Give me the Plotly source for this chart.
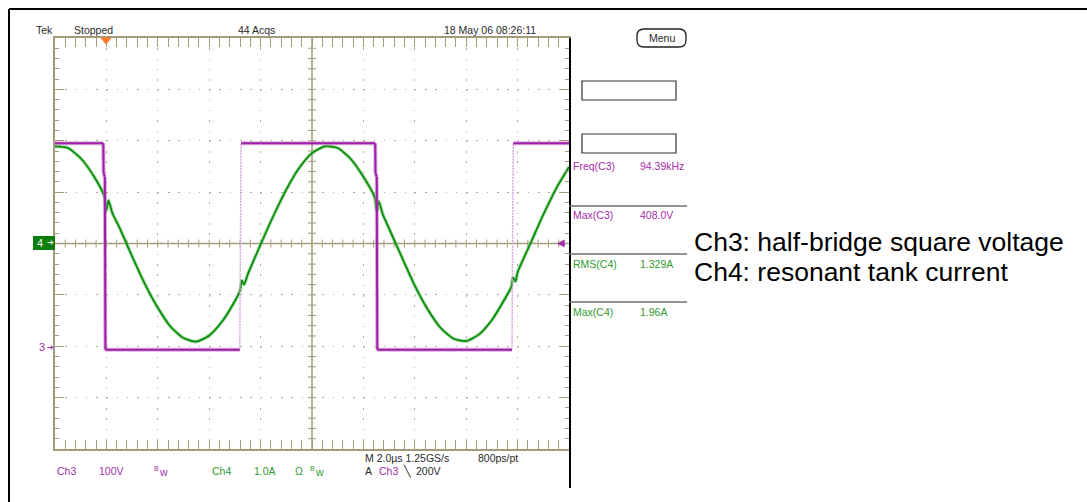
import plotly.graph_objects as go

# ---------------- data ----------------
# Ch3: half-bridge square voltage  (time in us, volts)
ch3_t = [0.0, 1.88, 1.89, 1.94, 1.96, 7.19, 7.24, 7.30, 12.46, 12.47, 12.52, 12.54, 17.78, 17.83, 17.89, 20.0]
ch3_v = [395, 395, 337, 330, -7, -7, 395, 395, 395, 337, 330, -7, -7, 395, 395, 395]

# Ch4: resonant tank current (time in us, amps)
ch4_t = [0.0, 0.5, 1.0, 1.5, 1.92, 2.0, 2.08, 2.24, 2.5, 3.0, 3.5, 4.0, 4.5, 5.0, 5.5, 6.0,
         6.5, 7.0, 7.2, 7.27, 7.36, 7.5, 8.0, 8.5, 9.0, 9.5, 10.0, 10.5, 11.0, 11.5, 12.0,
         12.44, 12.52, 12.6, 12.76, 13.0, 13.5, 14.0, 14.5, 15.0, 15.5, 16.0, 16.5, 17.0,
         17.5, 17.76, 17.82, 17.92, 18.0, 18.5, 19.0, 19.5, 20.0]
ch4_a = [1.89, 1.86, 1.66, 1.32, 0.92, 0.64, 0.84, 0.58, 0.32, -0.25, -0.79, -1.25, -1.62,
         -1.84, -1.91, -1.79, -1.52, -1.12, -0.92, -0.72, -0.80, -0.60, -0.02, 0.54, 1.05,
         1.47, 1.76, 1.89, 1.86, 1.65, 1.30, 0.90, 0.62, 0.82, 0.56, 0.29, -0.27, -0.82,
         -1.28, -1.64, -1.85, -1.90, -1.77, -1.49, -1.08, -0.84, -0.66, -0.74, -0.56, 0.00,
         0.56, 1.07, 1.49]

meas_labels = ["Freq(C3)", "Max(C3)", "RMS(C4)", "Max(C4)"]
meas_values = ["94.39kHz", "408.0V", "1.329A", "1.96A"]

# ---------------- styling ----------------
TAN = "#b3ab8c"
TAN_D = "#a39b7c"
PURPLE = "#a01fa8"
PURPLE_L = "#d8a2dc"
GREEN = "#0c880c"
GREEN_L = "rgba(100,200,100,0.6)"
TXT = "#2a2a2a"
TPURPLE = "#a42ea8"
TGREEN = "#2e9a2e"
FONT = "Liberation Sans, Arial, sans-serif"

L, T, W, H = 55, 38, 514, 411
FW, FH = 1087, 502


def px(x):
    return (x - L) / W


def py(y):
    return (T + H - y) / H


fig = go.Figure()

# Ch4 trace (halo + core)
fig.add_trace(go.Scatter(x=ch4_t, y=ch4_a, mode="lines", yaxis="y",
                         line=dict(color=GREEN_L, width=3.6, shape="spline", smoothing=0.6),
                         hoverinfo="skip"))
fig.add_trace(go.Scatter(x=ch4_t, y=ch4_a, mode="lines", yaxis="y",
                         line=dict(color=GREEN, width=1.7, shape="spline", smoothing=0.6),
                         hoverinfo="skip"))

# Ch3 trace: rising edges drawn faint, the rest solid
main_x, main_y, rise_x, rise_y = [], [], [], []
for i in range(len(ch3_t) - 1):
    x0, x1, y0, y1 = ch3_t[i], ch3_t[i + 1], ch3_v[i], ch3_v[i + 1]
    if y1 - y0 > 100:
        rise_x += [x0, x1, None]
        rise_y += [y0, y1, None]
    else:
        main_x += [x0, x1, None]
        main_y += [y0, y1, None]

fig.add_trace(go.Scatter(x=rise_x, y=rise_y, mode="lines", yaxis="y2",
                         line=dict(color=PURPLE_L, width=1.5, dash="2px,1px"), hoverinfo="skip"))
fig.add_trace(go.Scatter(x=main_x, y=main_y, mode="lines", yaxis="y2",
                         line=dict(color="rgba(190,110,195,0.55)", width=4), hoverinfo="skip"))
fig.add_trace(go.Scatter(x=main_x, y=main_y, mode="lines", yaxis="y2",
                         line=dict(color=PURPLE, width=2), hoverinfo="skip"))

shapes = []
# centre cross
shapes.append(dict(type="line", xref="x", yref="y", x0=0, x1=20, y0=0, y1=0,
                   line=dict(color=TAN_D, width=1.5), layer="below"))
shapes.append(dict(type="line", xref="x", yref="y", x0=10, x1=10, y0=-4, y1=4,
                   line=dict(color=TAN_D, width=1.5), layer="below"))
for k in range(1, 50):
    t = k * 0.4
    shapes.append(dict(type="line", xref="x", yref="y", x0=t, x1=t, ysizemode="pixel", yanchor=0,
                       y0=-4, y1=4, line=dict(color=TAN_D, width=1), layer="below"))
for k in range(1, 40):
    v = -4 + k * 0.2
    shapes.append(dict(type="line", xref="x", yref="y", y0=v, y1=v, xsizemode="pixel", xanchor=10,
                       x0=-4, x1=4, line=dict(color=TAN_D, width=1), layer="below"))


def pline(x0, y0, x1, y1, color="black", width=2):
    shapes.append(dict(type="line", xref="paper", yref="paper", x0=px(x0), y0=py(y0),
                       x1=px(x1), y1=py(y1), line=dict(color=color, width=width)))


def prect(x0, y0, x1, y1, color="#333", width=1.2, fill="rgba(0,0,0,0)"):
    shapes.append(dict(type="rect", xref="paper", yref="paper", x0=px(x0), y0=py(y0),
                       x1=px(x1), y1=py(y1), line=dict(color=color, width=width), fillcolor=fill))


# outer frame
pline(9, 9, FW, 9)
pline(9, 9, 9, FH)
pline(570, 38, 570, 488)

# measurement panel
prect(582, 81, 676, 100)
prect(582, 134, 676, 153)
for yy in [206, 254, 302]:
    pline(569, yy, 687, yy, color="#6e6e6e", width=1.3)

# Menu button (rounded)
mx0, mx1, my0, my1, r = 637, 686, 29, 47, 7
path = (f"M {px(mx0 + r)},{py(my0)} L {px(mx1 - r)},{py(my0)} "
        f"Q {px(mx1)},{py(my0)} {px(mx1)},{py(my0 + r)} L {px(mx1)},{py(my1 - r)} "
        f"Q {px(mx1)},{py(my1)} {px(mx1 - r)},{py(my1)} L {px(mx0 + r)},{py(my1)} "
        f"Q {px(mx0)},{py(my1)} {px(mx0)},{py(my1 - r)} L {px(mx0)},{py(my0 + r)} "
        f"Q {px(mx0)},{py(my0)} {px(mx0 + r)},{py(my0)} Z")
shapes.append(dict(type="path", xref="paper", yref="paper", path=path,
                   line=dict(color="#222", width=1.3)))

# Ch4 ground marker box
prect(33, 236, 55, 250, color="#0b7d0b", width=0, fill="#0b7d0b")

# trigger position marker (orange triangle at top)
tri = f"M {px(101)},{py(38)} L {px(111)},{py(38)} L {px(106)},{py(44)} Z"
shapes.append(dict(type="path", xref="paper", yref="paper", path=tri,
                   line=dict(color="#ff7a2a", width=1), fillcolor="#ff7a2a"))

annotations = []


def ptext(x, y, text, color=TXT, size=10.5, anchor="left", font=FONT):
    annotations.append(dict(xref="paper", yref="paper", x=px(x), y=py(y), text=text,
                            showarrow=False, xanchor=anchor, yanchor="middle",
                            font=dict(family=font, size=size, color=color)))


ptext(34, 30, "Tek")
ptext(72, 30, "Stopped")
ptext(236, 30, "44 Acqs")
ptext(442, 30, "18 May 06 08:26:11")
ptext(661.5, 38, "Menu", anchor="center")

rows_y = [166, 215, 264, 312]
cols = [TPURPLE, TPURPLE, TGREEN, TGREEN]
for lab, val, yy, c in zip(meas_labels, meas_values, rows_y, cols):
    ptext(571, yy, lab, color=c)
    ptext(638, yy, val, color=c)

# channel markers
ptext(40, 243, "4", color="white", size=11, anchor="center")
ptext(50, 243, "➔", color="white", size=8, anchor="center")
ptext(42, 347, "3", color=TPURPLE, size=11, anchor="center")
ptext(50, 347, "➔", color=TPURPLE, size=8, anchor="center")
ptext(561, 243, "◀", color=TPURPLE, size=10, anchor="center")

# bottom status line
ptext(55, 471, "Ch3", color=TPURPLE)
ptext(97, 471, "100V", color=TPURPLE)
ptext(152, 468, "B", color=TPURPLE, size=7)
ptext(157, 472, "w", color=TPURPLE)
ptext(210, 471, "Ch4", color=TGREEN)
ptext(252, 471, "1.0A", color=TGREEN)
ptext(293, 471, "Ω", color=TGREEN)
ptext(308, 468, "B", color=TGREEN, size=7)
ptext(313, 472, "w", color=TGREEN)
ptext(363, 458, "M 2.0µs 1.25GS/s")
ptext(476, 458, "800ps/pt")
ptext(363, 471, "A")
ptext(377, 471, "Ch3", color=TPURPLE)
ptext(401, 471, "╲")
ptext(414, 471, "200V")

# explanatory text
ptext(692, 242, "Ch3: half-bridge square voltage", color="black", size=26.5)
ptext(692, 272, "Ch4: resonant tank current", color="black", size=26.5)

axis_common = dict(showticklabels=False, zeroline=False, showline=True, linecolor=TAN_D,
                   linewidth=1.5, mirror="allticks", ticks="inside", ticklen=9,
                   tickcolor=TAN_D, tickwidth=1, showgrid=True, gridcolor=TAN,
                   gridwidth=1.2, fixedrange=True)

fig.update_layout(
    width=FW, height=FH,
    margin=dict(l=L, r=FW - L - W, t=T, b=FH - T - H, pad=0),
    paper_bgcolor="white", plot_bgcolor="white",
    showlegend=False,
    xaxis=dict(range=[0, 20], dtick=2, tick0=0, griddash="1.5px,8.78px",
               minor=dict(dtick=0.4, tick0=0, ticks="inside", ticklen=4, tickcolor=TAN_D,
                          showgrid=False),
               **axis_common),
    yaxis=dict(range=[-4, 4], dtick=1, tick0=0, griddash="1.5px,8.78px",
               minor=dict(dtick=0.2, tick0=0, ticks="inside", ticklen=4, tickcolor=TAN_D,
                          showgrid=False),
               **axis_common),
    yaxis2=dict(range=[-200, 600], overlaying="y", visible=False, fixedrange=True),
    shapes=shapes,
    annotations=annotations,
)

fig.write_html("out.html", config={"displayModeBar": False},
               post_script="document.body.style.margin='0';document.body.style.overflow='hidden';")
